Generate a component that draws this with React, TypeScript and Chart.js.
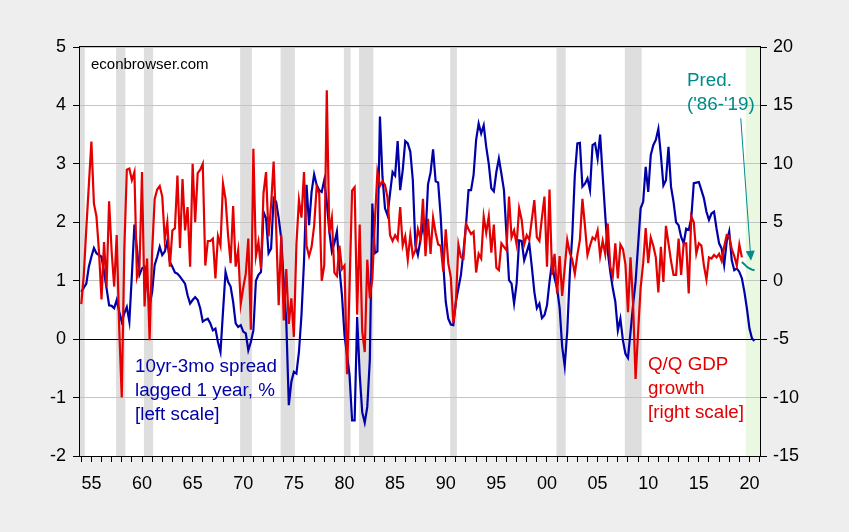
import React, { useEffect, useRef } from "react";
import { Chart, registerables } from "chart.js";

Chart.register(...registerables);

// ---------------- data ----------------
const FIRST_QUARTER = "1954Q1";

// 10yr-3mo Treasury spread, lagged 1 year, % (left scale), quarterly from 1954Q1
const SPREAD_LAGGED = [
  0.81, 0.88, 0.95, 1.24, // 1954
  1.41, 1.56, 1.47, 1.44, // 1955
  1.41, 1.15, 0.87, 0.58, // 1956
  0.57, 0.53, 0.67, 0.47, // 1957
  0.30, 0.44, 0.55, 0.30, // 1958
  1.10, 1.96, 1.55, 1.10, // 1959
  1.21, 1.24, 0.92, 0.58, // 1960
  0.81, 1.27, 1.41, 1.58, // 1961
  1.44, 1.50, 1.68, 1.32, // 1962
  1.24, 1.14, 1.12, 1.07, // 1963
  1.01, 0.95, 0.75, 0.61, // 1964
  0.67, 0.72, 0.67, 0.53, // 1965
  0.30, 0.33, 0.35, 0.27, // 1966
  0.15, 0.18, -0.05, -0.22, // 1967
  0.47, 1.15, 0.98, 0.90, // 1968
  0.64, 0.27, 0.21, 0.24, // 1969
  0.13, 0.10, -0.19, -0.05, // 1970
  0.15, 1.00, 1.10, 1.15, // 1971
  2.18, 2.07, 1.47, 1.55, // 1972
  2.41, 2.35, 2.07, 1.72, // 1973
  0.98, 0.30, -1.13, -0.73, // 1974
  -0.56, -0.59, -0.22, 0.41, // 1975
  1.32, 2.64, 1.95, 2.52, // 1976
  2.82, 2.64, 2.55, 2.52, // 1977
  2.72, 2.35, 1.84, 1.50, // 1978
  1.64, 1.84, 1.21, 0.75, // 1979
  0.07, -0.27, -0.62, -1.39, // 1980
  -1.39, 0.38, -0.60, -1.25, // 1981
  -1.43, -1.16, -0.36, 2.32, // 1982
  1.47, 1.50, 3.81, 2.78, // 1983
  2.24, 2.12, 2.50, 2.86, // 1984
  2.80, 3.39, 2.55, 2.89, // 1985
  3.39, 3.35, 3.21, 2.72, // 1986
  1.61, 1.44, 1.70, 1.95, // 1987
  1.75, 2.65, 2.85, 3.25, // 1988
  2.70, 2.68, 2.10, 1.30, // 1989
  0.64, 0.35, 0.25, 0.24, // 1990
  0.64, 0.87, 1.10, 1.50, // 1991
  1.95, 2.55, 2.55, 2.81, // 1992
  3.41, 3.69, 3.52, 3.66, // 1993
  3.29, 3.00, 2.58, 2.53, // 1994
  2.86, 3.09, 2.83, 2.55, // 1995
  1.78, 1.01, 0.95, 0.61, // 1996
  0.95, 1.69, 1.68, 1.35, // 1997
  1.49, 1.64, 1.24, 0.81, // 1998
  0.53, 0.61, 0.36, 0.41, // 1999
  0.58, 0.98, 1.32, 1.04, // 2000
  0.87, 0.53, -0.13, -0.46, // 2001
  0.13, 1.10, 1.78, 2.81, // 2002
  3.35, 3.36, 2.61, 2.66, // 2003
  2.75, 2.55, 3.32, 3.35, // 2004
  3.09, 3.50, 2.80, 2.13, // 2005
  1.50, 1.15, 0.87, 0.64, // 2006
  0.15, 0.35, -0.02, -0.25, // 2007
  -0.32, 0.12, 0.58, 0.98, // 2008
  1.61, 2.24, 2.35, 2.95, // 2009
  2.52, 3.15, 3.32, 3.41, // 2010
  3.60, 3.15, 2.63, 2.72, // 2011
  3.29, 2.61, 2.35, 2.00, // 2012
  1.95, 1.75, 1.64, 1.89, // 2013
  1.87, 2.07, 2.67, 2.68, // 2014
  2.69, 2.55, 2.41, 2.18, // 2015
  2.04, 2.15, 2.18, 1.89, // 2016
  1.64, 1.55, 1.27, 1.67, // 2017
  1.84, 1.35, 1.18, 1.21, // 2018
  1.15, 1.04, 0.81, 0.52, // 2019
  0.18, 0.01, -0.03, // 2020
];

// Q/Q real GDP growth, annualized % (right scale), quarterly from 1954Q1
const GDP_GROWTH = [
  -2.0, 0.5, 4.5, 8.2, // 1954
  11.9, 6.6, 5.5, 2.5, // 1955
  -1.6, 3.3, -0.5, 6.8, // 1956
  2.5, -0.5, 3.9, -4.1, // 1957
  -10.0, 2.6, 9.5, 9.6, // 1958
  8.6, 9.3, 0.3, 1.1, // 1959
  9.3, -2.2, 1.9, -5.1, // 1960
  2.5, 7.0, 7.8, 8.1, // 1961
  7.2, 3.5, 5.0, 1.2, // 1962
  4.3, 4.5, 9.0, 2.8, // 1963
  8.7, 4.3, 6.3, 1.2, // 1964
  10.0, 5.0, 9.2, 9.5, // 1965
  10.0, 1.3, 3.4, 3.4, // 1966
  3.6, 0.2, 3.8, 3.0, // 1967
  8.3, 7.0, 3.9, 1.5, // 1968
  6.4, 1.2, 2.6, -2.0, // 1969
  -0.6, 0.6, 3.6, -4.2, // 1970
  11.3, 2.1, 3.3, 1.0, // 1971
  7.5, 9.3, 3.8, 6.5, // 1972
  10.2, 4.5, -2.1, 3.9, // 1973
  -3.4, 1.0, -3.7, -1.5, // 1974
  -4.8, 3.1, 6.9, 5.4, // 1975
  9.3, 3.0, 2.1, 2.9, // 1976
  4.7, 8.0, 7.5, 0.0, // 1977
  1.3, 16.3, 4.1, 5.4, // 1978
  0.7, 0.4, 3.0, 1.0, // 1979
  1.3, -8.0, -0.5, 7.7, // 1980
  8.0, -2.9, 4.8, -4.3, // 1981
  -6.1, 1.8, -1.5, 0.2, // 1982
  5.1, 9.3, 8.1, 8.5, // 1983
  8.2, 7.1, 3.9, 3.4, // 1984
  3.9, 3.5, 6.3, 3.0, // 1985
  3.8, 1.8, 3.9, 2.1, // 1986
  2.6, 4.4, 3.6, 7.0, // 1987
  2.1, 5.3, 2.3, 5.4, // 1988
  4.1, 3.1, 3.0, 0.8, // 1989
  4.4, 1.5, 0.3, -3.6, // 1990
  -1.9, 3.1, 2.0, 1.9, // 1991
  4.9, 4.4, 4.0, 4.2, // 1992
  0.7, 2.3, 1.9, 5.5, // 1993
  4.1, 5.5, 2.4, 4.8, // 1994
  1.1, 0.9, 3.2, 2.9, // 1995
  2.6, 7.2, 3.7, 4.3, // 1996
  3.1, 6.2, 5.2, 3.1, // 1997
  3.9, 3.5, 5.2, 6.9, // 1998
  3.7, 3.4, 5.4, 7.2, // 1999
  1.2, 7.8, 0.5, 2.3, // 2000
  -1.1, 2.1, -1.3, 1.1, // 2001
  3.5, 2.4, 1.8, 0.6, // 2002
  2.2, 3.5, 7.0, 4.7, // 2003
  2.2, 3.0, 3.7, 3.5, // 2004
  4.3, 2.1, 3.4, 2.3, // 2005
  4.9, 1.2, 0.4, 3.2, // 2006
  0.2, 3.1, 2.7, 1.4, // 2007
  -2.7, 2.0, -1.9, -8.4, // 2008
  -4.4, -0.6, 1.5, 4.5, // 2009
  1.5, 3.7, 3.0, 2.0, // 2010
  -1.0, 2.9, -0.1, 4.7, // 2011
  3.2, 1.7, 0.5, 0.5, // 2012
  3.6, 0.5, 3.2, 3.2, // 2013
  -1.1, 5.5, 5.0, 2.3, // 2014
  3.2, 3.0, 1.3, 0.1, // 2015
  2.0, 1.9, 2.2, 2.0, // 2016
  2.3, 1.7, 2.9, 3.9, // 2017
  3.8, 2.7, 2.1, 1.3, // 2018
  3.1, 2.0, // 2019
];

// Predicted GDP growth ('86-'19 regression), right scale
const PRED_START = "2019Q2";
const GDP_PRED = [1.6, 1.4, 1.2, 1.05, 0.95, 0.9];

// NBER recessions (peak quarter, trough quarter)
const RECESSIONS: [string, string][] = [
  ["1953Q2", "1954Q2"],
  ["1957Q3", "1958Q2"],
  ["1960Q2", "1961Q1"],
  ["1969Q4", "1970Q4"],
  ["1973Q4", "1975Q1"],
  ["1980Q1", "1980Q3"],
  ["1981Q3", "1982Q4"],
  ["1990Q3", "1991Q1"],
  ["2001Q1", "2001Q4"],
  ["2007Q4", "2009Q2"],
];
const FORECAST_FROM = "2019Q4";

// axis ticks
const X_LABEL_YEARS = [1955, 1960, 1965, 1970, 1975, 1980, 1985, 1990, 1995, 2000, 2005, 2010, 2015, 2020];
const X_FIRST_YEAR = 1954;
const X_LAST_YEAR = 2021;
const LEFT_TICKS = [-2, -1, 0, 1, 2, 3, 4, 5];
const RIGHT_TICKS = [-15, -10, -5, 0, 5, 10, 15, 20];

// arrow from "Pred." label to prediction line: [year, right-scale value]
const ARROW_FROM: [number, number] = [2019.14, 13.9];
const ARROW_TO: [number, number] = [2020.15, 1.7];

// ---------------- helpers ----------------
const qToYear = (q: string) => {
  const [y, qq] = q.split("Q");
  return Number(y) + (Number(qq) - 1) / 4;
};
const toPoints = (arr: number[], start: string) => {
  const s = qToYear(start);
  return arr.map((v, i) => ({ x: s + i / 4, y: v }));
};
const X_MINOR_YEARS: number[] = [];
for (let y = X_FIRST_YEAR; y <= X_LAST_YEAR; y++) X_MINOR_YEARS.push(y);

const FONT = "'Liberation Sans', Arial, sans-serif";
const BLUE = "#0000A8";
const RED = "#E40000";
const TEAL = "#008B8B";

const decor = {
  id: "decor",
  beforeDraw(chart: any) {
    const { ctx, chartArea: a, scales } = chart;
    const xs = scales.x;
    ctx.save();
    ctx.fillStyle = "#EEEEEE";
    ctx.fillRect(0, 0, chart.width, chart.height);
    ctx.fillStyle = "#FFFFFF";
    ctx.fillRect(a.left, a.top, a.right - a.left, a.bottom - a.top);
    ctx.beginPath();
    ctx.rect(a.left, a.top, a.right - a.left, a.bottom - a.top);
    ctx.clip();
    ctx.fillStyle = "#DEDEDE";
    for (const [s, e] of RECESSIONS) {
      const x0 = xs.getPixelForValue(qToYear(s) - 0.06);
      const x1 = xs.getPixelForValue(qToYear(e) + 0.1);
      ctx.fillRect(x0, a.top, x1 - x0, a.bottom - a.top);
    }
    ctx.fillStyle = "#EAF7E1";
    const gx = xs.getPixelForValue(qToYear(FORECAST_FROM) - 0.125);
    ctx.fillRect(gx, a.top, a.right - gx, a.bottom - a.top);
    ctx.restore();
  },
  afterDatasetsDraw(chart: any) {
    const { ctx, chartArea: a, scales } = chart;
    const xs = scales.x;
    const y1 = scales.y1;
    ctx.save();
    // frame
    ctx.strokeStyle = "#000";
    ctx.lineWidth = 1;
    ctx.strokeRect(Math.round(a.left) - 0.5, Math.round(a.top) - 0.5, Math.round(a.right - a.left) + 1, Math.round(a.bottom - a.top) + 1);

    // texts
    ctx.textAlign = "left";
    ctx.textBaseline = "alphabetic";
    ctx.font = `15px ${FONT}`;
    ctx.fillStyle = "#000";
    ctx.fillText("econbrowser.com", a.left + 11, a.top + 22);

    ctx.font = `18.8px ${FONT}`;
    ctx.fillStyle = BLUE;
    ["10yr-3mo spread", "lagged 1 year, %", "[left scale]"].forEach((t, i) =>
      ctx.fillText(t, a.left + 55, a.top + 325 + i * 24)
    );
    ctx.fillStyle = RED;
    ["Q/Q GDP", "growth", "[right scale]"].forEach((t, i) =>
      ctx.fillText(t, a.left + 568, a.top + 323 + i * 24)
    );
    ctx.fillStyle = TEAL;
    ["Pred.", "('86-'19)"].forEach((t, i) => ctx.fillText(t, a.left + 607, a.top + 39 + i * 24));

    // arrow
    const p0x = xs.getPixelForValue(ARROW_FROM[0]);
    const p0y = y1.getPixelForValue(ARROW_FROM[1]);
    const p1x = xs.getPixelForValue(ARROW_TO[0]);
    const p1y = y1.getPixelForValue(ARROW_TO[1]);
    const ang = Math.atan2(p1y - p0y, p1x - p0x);
    const L = 10;
    const W = 4.5;
    const bx = p1x - L * Math.cos(ang);
    const by = p1y - L * Math.sin(ang);
    ctx.strokeStyle = TEAL;
    ctx.fillStyle = TEAL;
    ctx.lineWidth = 1;
    ctx.beginPath();
    ctx.moveTo(p0x, p0y);
    ctx.lineTo(bx, by);
    ctx.stroke();
    ctx.beginPath();
    ctx.moveTo(p1x, p1y);
    ctx.lineTo(bx + W * Math.sin(ang), by - W * Math.cos(ang));
    ctx.lineTo(bx - W * Math.sin(ang), by + W * Math.cos(ang));
    ctx.closePath();
    ctx.fill();
    ctx.restore();
  },
};

export default function App() {
  const ref = useRef<HTMLCanvasElement | null>(null);

  useEffect(() => {
    document.body.style.margin = "0";
    if (!ref.current) return;
    const tickFont = { family: FONT, size: 18 };
    const chart = new Chart(ref.current, {
      type: "line",
      data: {
        datasets: [
          {
            label: "Pred. ('86-'19)",
            data: toPoints(GDP_PRED, PRED_START),
            yAxisID: "y1",
            borderColor: TEAL,
            borderWidth: 2,
            pointRadius: 0,
            tension: 0.3,
            order: 0,
          },
          {
            label: "Q/Q GDP growth",
            data: toPoints(GDP_GROWTH, FIRST_QUARTER),
            yAxisID: "y1",
            borderColor: RED,
            borderWidth: 2.2,
            pointRadius: 0,
            tension: 0,
            order: 1,
          },
          {
            label: "10yr-3mo spread lagged 1 year",
            data: toPoints(SPREAD_LAGGED, FIRST_QUARTER),
            yAxisID: "y",
            borderColor: BLUE,
            borderWidth: 2.2,
            pointRadius: 0,
            tension: 0,
            order: 2,
          },
        ],
      },
      options: {
        animation: false,
        responsive: false,
        devicePixelRatio: 1,
        layout: { padding: { top: 47, left: 0, right: 0, bottom: 0 } },
        plugins: { legend: { display: false }, tooltip: { enabled: false } },
        scales: {
          x: {
            type: "linear",
            min: qToYear(FIRST_QUARTER) - 0.125,
            max: 2021.04,
            afterBuildTicks: (s: any) => {
              s.ticks = X_MINOR_YEARS.map((v) => ({ value: v }));
            },
            afterFit: (s: any) => {
              s.height = 76;
            },
            ticks: {
              autoSkip: false,
              maxRotation: 0,
              minRotation: 0,
              includeBounds: false,
              color: "#000",
              font: tickFont,
              padding: 11,
              callback: (v: any) => (X_LABEL_YEARS.includes(v) ? String(v).slice(2) : ""),
            },
            grid: { drawOnChartArea: false, drawTicks: true, tickLength: 6, color: "#000", tickColor: "#000" },
            border: { display: false },
          },
          y: {
            type: "linear",
            position: "left",
            min: -2,
            max: 5,
            afterBuildTicks: (s: any) => {
              s.ticks = LEFT_TICKS.map((v) => ({ value: v }));
            },
            afterFit: (s: any) => {
              s.width = 80;
            },
            ticks: { color: "#000", font: tickFont, padding: 7 },
            grid: {
              drawOnChartArea: true,
              drawTicks: true,
              tickLength: 7,
              color: (c: any) => (c.tick && c.tick.value === 0 ? "#000" : "#C4C4C4"),
              tickColor: "#000",
              lineWidth: 1,
            },
            border: { display: false },
          },
          y1: {
            type: "linear",
            position: "right",
            min: -15,
            max: 20,
            afterBuildTicks: (s: any) => {
              s.ticks = RIGHT_TICKS.map((v) => ({ value: v }));
            },
            afterFit: (s: any) => {
              s.width = 89;
            },
            ticks: { color: "#000", font: tickFont, padding: 6 },
            grid: { drawOnChartArea: false, drawTicks: true, tickLength: 7, color: "#000", tickColor: "#000" },
            border: { display: false },
          },
        },
      },
      plugins: [decor],
    } as any);
    return () => chart.destroy();
  }, []);

  return (
    <div style={{ width: 849, height: 532 }}>
      <canvas ref={ref} width={849} height={532} style={{ display: "block" }} />
    </div>
  );
}
